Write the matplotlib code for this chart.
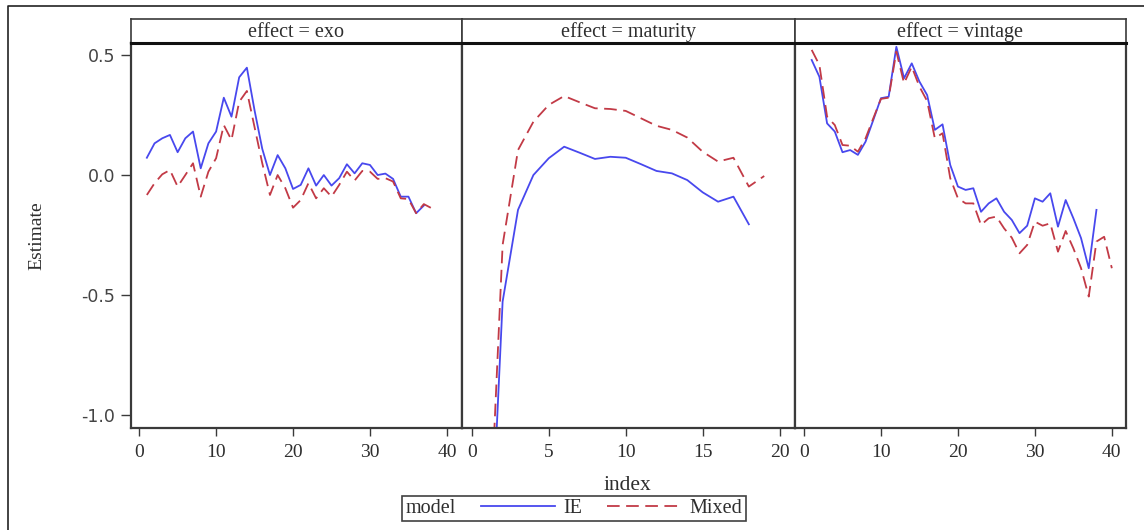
import matplotlib.pyplot as plt
import numpy as np
from matplotlib.lines import Line2D

# data
effects = ['exo', 'maturity', 'vintage']
models = ['IE', 'Mixed']

exo_ie = [0.073, 0.133, 0.154, 0.168, 0.096, 0.154, 0.182, 0.029, 0.133, 0.182,
          0.323, 0.244, 0.408, 0.448, 0.270, 0.110, 0.001, 0.084, 0.029, -0.057,
          -0.040, 0.029, -0.043, 0.001, -0.043, -0.012, 0.046, 0.008, 0.050, 0.043,
          0.001, 0.007, -0.015, -0.089, -0.089, -0.158, -0.126]
exo_mixed = [-0.082, -0.033, 0.004, 0.022, -0.047, 0.001, 0.050, -0.089, 0.015, 0.071,
             0.209, 0.147, 0.306, 0.351, 0.200, 0.050, -0.082, 0.001, -0.054, -0.135,
             -0.103, -0.033, -0.096, -0.054, -0.089, -0.040, 0.015, -0.022, 0.018, 0.015,
             -0.015, -0.012, -0.026, -0.096, -0.099, -0.158, -0.120, -0.137]

maturity_ie = [-1.905, -0.526, -0.144, 0.001, 0.071, 0.119, 0.094, 0.068, 0.077, 0.073,
               0.046, 0.018, 0.008, -0.020, -0.071, -0.110, -0.089, -0.204]
maturity_mixed = [-1.72, -0.290, 0.105, 0.223, 0.293, 0.330, 0.304, 0.279, 0.276, 0.268,
                  0.237, 0.206, 0.189, 0.157, 0.098, 0.057, 0.073, -0.047, -0.003]

vintage_ie = [0.480, 0.410, 0.216, 0.182, 0.096, 0.105, 0.085, 0.140, 0.230, 0.321,
              0.327, 0.535, 0.404, 0.466, 0.390, 0.334, 0.189, 0.212, 0.043, -0.047,
              -0.061, -0.054, -0.152, -0.117, -0.096, -0.152, -0.186, -0.241, -0.210, -0.096,
              -0.110, -0.075, -0.214, -0.103, -0.179, -0.262, -0.387, -0.144]
vintage_mixed = [0.522, 0.459, 0.244, 0.209, 0.126, 0.123, 0.098, 0.154, 0.237, 0.318,
                 0.323, 0.515, 0.383, 0.452, 0.369, 0.309, 0.154, 0.175, -0.012, -0.096,
                 -0.117, -0.117, -0.207, -0.179, -0.172, -0.221, -0.260, -0.325, -0.290, -0.193,
                 -0.210, -0.200, -0.318, -0.232, -0.304, -0.387, -0.505, -0.276, -0.256, -0.387]

series = {
    'exo': (exo_ie, exo_mixed),
    'maturity': (maturity_ie, maturity_mixed),
    'vintage': (vintage_ie, vintage_mixed),
}

xticks = [[0, 10, 20, 30, 40], [0, 5, 10, 15, 20], [0, 10, 20, 30, 40]]
yticks = [0.5, 0.0, -0.5, -1.0]

# layout (pixels)
W, H = 1144, 530
panel_left = [130.7, 462.3, 795.0]
panel_right = [462.3, 795.0, 1125.7]
top_px, bottom_px, strip_px = 42.7, 427.7, 19.3
xlims = [(-1.1, 42.0), (-0.62, 21.0), (-1.17, 41.8)]
ylim = (-1.051, 0.552)

blue = '#4848EE'
red = '#C23A46'
txt = '#2e2e2e'
edge = '#3a3a3a'
serif = ['Liberation Serif', 'DejaVu Serif']

fig = plt.figure(figsize=(W / 100, H / 100), dpi=100)


def fx(px):
    return px / W


def fy(py):
    return 1 - py / H


for i, eff in enumerate(effects):
    l, r = panel_left[i], panel_right[i]
    ax = fig.add_axes([fx(l), fy(bottom_px), fx(r - l), (bottom_px - top_px) / H])
    ie, mixed = series[eff]
    ax.plot(np.arange(1, len(ie) + 1), ie, color=blue, lw=1.3, label='IE')
    ax.plot(np.arange(1, len(mixed) + 1), mixed, color=red, lw=1.3,
            dashes=(7, 3.6), label='Mixed')
    ax.set_xlim(*xlims[i])
    ax.set_ylim(*ylim)
    ax.set_xticks(xticks[i])
    ax.set_xticklabels([str(t) for t in xticks[i]], family=serif, fontsize=14, color=txt)
    ax.tick_params(axis='x', direction='out', length=6, width=1, pad=6, color=edge)
    if i == 0:
        ax.set_yticks(yticks)
        ax.set_yticklabels(['0.5', '0.0', '-0.5', '-1.0'], family='DejaVu Sans',
                           fontsize=12.5, color='#444444')
        ax.tick_params(axis='y', direction='out', length=7, width=1, pad=4, color=edge)
        ax.set_ylabel('Estimate', family=serif, fontsize=14, color=txt, labelpad=26)
    else:
        ax.set_yticks([])
    for sp in ax.spines.values():
        sp.set_color(edge)
        sp.set_linewidth(1.6)

    # strip header
    sax = fig.add_axes([fx(l), fy(top_px), fx(r - l), (top_px - strip_px) / H])
    sax.set_xticks([])
    sax.set_yticks([])
    for sp in sax.spines.values():
        sp.set_color(edge)
        sp.set_linewidth(1.2)
    sax.spines['bottom'].set_linewidth(2.2)
    sax.spines['bottom'].set_color('#111111')
    sax.text(0.5, 0.45, 'effect = ' + eff, transform=sax.transAxes, ha='center',
             va='center', family=serif, fontsize=14.5, color=txt)

fig.text(fx(627), fy(485), 'index', ha='center', va='center', family=serif,
         fontsize=15.5, color=txt)

# legend with its title on the left, as in the reference
handles = [Line2D([], [], color=blue, lw=1.3),
           Line2D([], [], color=red, lw=1.3, dashes=(7, 3.6))]
leg = fig.legend(handles, models, loc='center', bbox_to_anchor=(fx(574), fy(508.5)),
                 ncol=2, title='model', frameon=True, fancybox=False,
                 handlelength=3.7, handletextpad=0.4, columnspacing=1.1,
                 borderpad=0.15, borderaxespad=0,
                 prop={'family': serif, 'size': 14.5})
leg.get_title().set_fontfamily(serif)
leg.get_title().set_fontsize(14.5)
leg.get_frame().set_edgecolor('#111111')
leg.get_frame().set_linewidth(1.2)
for t in leg.get_texts():
    t.set_color(txt)
leg.get_title().set_color(txt)
box = leg._legend_box
title_box, handle_box = box.get_children()
handle_box._children.insert(0, title_box)
handle_box.sep = 18
box._children = [handle_box]

# outer frame (left and top edges)
fig.add_artist(Line2D([fx(8), fx(8), 1.0], [0.0, fy(6), fy(6)], color='#222222', lw=1.2))

fig.savefig('out.png', dpi=100)
